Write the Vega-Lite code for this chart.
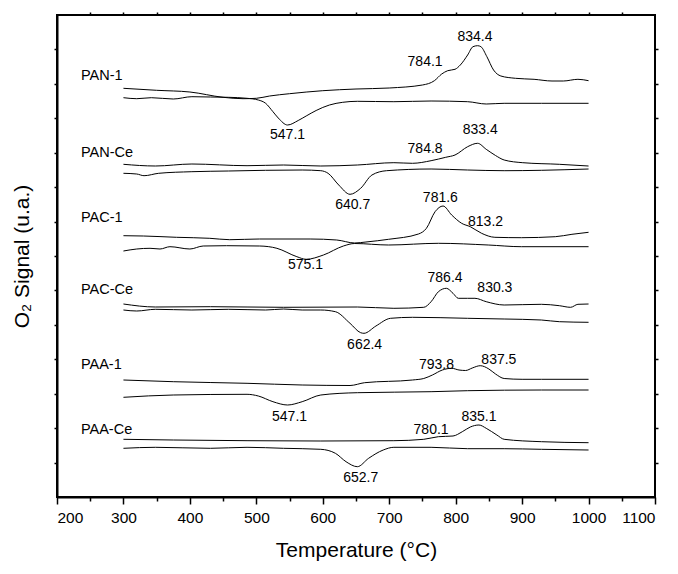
{
  "$schema": "https://vega.github.io/schema/vega-lite/v6.json",
  "width": 598,
  "height": 482,
  "autosize": {"type": "none"},
  "padding": {"left": 57, "top": 15, "right": 23, "bottom": 77},
  "config": {
    "font": "Liberation Sans",
    "view": {"stroke": "black", "strokeWidth": 2},
    "axis": {"grid": false, "domainColor": "black", "domainWidth": 2, "tickColor": "black", "tickWidth": 1.5, "labelColor": "black", "titleColor": "black", "labelFont": "Liberation Sans", "titleFont": "Liberation Sans", "titleFontWeight": "normal"}
  },
  "datasets": {
    "curves": [
      {"curve": "PAN-1 a", "t": 300, "s": 408.7}, {"curve": "PAN-1 a", "t": 350, "s": 406.7}, {"curve": "PAN-1 a", "t": 400, "s": 405}, {"curve": "PAN-1 a", "t": 450, "s": 399.7}, {"curve": "PAN-1 a", "t": 480, "s": 398.3}, {"curve": "PAN-1 a", "t": 500, "s": 398.7}, {"curve": "PAN-1 a", "t": 520, "s": 401}, {"curve": "PAN-1 a", "t": 550, "s": 403.3}, {"curve": "PAN-1 a", "t": 600, "s": 406.3}, {"curve": "PAN-1 a", "t": 650, "s": 408}, {"curve": "PAN-1 a", "t": 700, "s": 409}, {"curve": "PAN-1 a", "t": 750, "s": 412}, {"curve": "PAN-1 a", "t": 768, "s": 416.3}, {"curve": "PAN-1 a", "t": 779, "s": 423}, {"curve": "PAN-1 a", "t": 788, "s": 426.3}, {"curve": "PAN-1 a", "t": 799, "s": 427.7}, {"curve": "PAN-1 a", "t": 807, "s": 432}, {"curve": "PAN-1 a", "t": 818, "s": 442}, {"curve": "PAN-1 a", "t": 826, "s": 450.3}, {"curve": "PAN-1 a", "t": 833, "s": 451.3}, {"curve": "PAN-1 a", "t": 838, "s": 450.3}, {"curve": "PAN-1 a", "t": 847, "s": 440.3}, {"curve": "PAN-1 a", "t": 857, "s": 427}, {"curve": "PAN-1 a", "t": 868, "s": 421}, {"curve": "PAN-1 a", "t": 890, "s": 418.7}, {"curve": "PAN-1 a", "t": 918, "s": 417.7}, {"curve": "PAN-1 a", "t": 945, "s": 416}, {"curve": "PAN-1 a", "t": 962, "s": 416}, {"curve": "PAN-1 a", "t": 984, "s": 417.7}, {"curve": "PAN-1 a", "t": 1000, "s": 416.3},
      {"curve": "PAN-1 b", "t": 300, "s": 399.3}, {"curve": "PAN-1 b", "t": 320, "s": 398.3}, {"curve": "PAN-1 b", "t": 342, "s": 399.3}, {"curve": "PAN-1 b", "t": 375, "s": 398}, {"curve": "PAN-1 b", "t": 403, "s": 400.3}, {"curve": "PAN-1 b", "t": 431, "s": 400}, {"curve": "PAN-1 b", "t": 458, "s": 399.7}, {"curve": "PAN-1 b", "t": 486, "s": 398.7}, {"curve": "PAN-1 b", "t": 503, "s": 397}, {"curve": "PAN-1 b", "t": 514, "s": 393.7}, {"curve": "PAN-1 b", "t": 525, "s": 385.3}, {"curve": "PAN-1 b", "t": 533, "s": 379}, {"curve": "PAN-1 b", "t": 547, "s": 372}, {"curve": "PAN-1 b", "t": 563, "s": 376.5}, {"curve": "PAN-1 b", "t": 575, "s": 381}, {"curve": "PAN-1 b", "t": 590, "s": 386.5}, {"curve": "PAN-1 b", "t": 610, "s": 392}, {"curve": "PAN-1 b", "t": 630, "s": 394.7}, {"curve": "PAN-1 b", "t": 652, "s": 395.7}, {"curve": "PAN-1 b", "t": 707, "s": 395.3}, {"curve": "PAN-1 b", "t": 763, "s": 396}, {"curve": "PAN-1 b", "t": 818, "s": 395.3}, {"curve": "PAN-1 b", "t": 846, "s": 393}, {"curve": "PAN-1 b", "t": 873, "s": 393.7}, {"curve": "PAN-1 b", "t": 929, "s": 393.7}, {"curve": "PAN-1 b", "t": 1000, "s": 393.7},
      {"curve": "PAN-Ce a", "t": 300, "s": 332.7}, {"curve": "PAN-Ce a", "t": 348, "s": 331}, {"curve": "PAN-Ce a", "t": 403, "s": 333}, {"curve": "PAN-Ce a", "t": 486, "s": 331.3}, {"curve": "PAN-Ce a", "t": 541, "s": 332}, {"curve": "PAN-Ce a", "t": 597, "s": 331}, {"curve": "PAN-Ce a", "t": 652, "s": 332}, {"curve": "PAN-Ce a", "t": 707, "s": 334.3}, {"curve": "PAN-Ce a", "t": 735, "s": 333.7}, {"curve": "PAN-Ce a", "t": 763, "s": 336.3}, {"curve": "PAN-Ce a", "t": 785, "s": 339.7}, {"curve": "PAN-Ce a", "t": 799, "s": 342}, {"curve": "PAN-Ce a", "t": 818, "s": 350.3}, {"curve": "PAN-Ce a", "t": 833, "s": 353.7}, {"curve": "PAN-Ce a", "t": 846, "s": 347.7}, {"curve": "PAN-Ce a", "t": 860, "s": 341.5}, {"curve": "PAN-Ce a", "t": 873, "s": 337}, {"curve": "PAN-Ce a", "t": 901, "s": 334.3}, {"curve": "PAN-Ce a", "t": 956, "s": 332.7}, {"curve": "PAN-Ce a", "t": 1000, "s": 331},
      {"curve": "PAN-Ce b", "t": 300, "s": 323.7}, {"curve": "PAN-Ce b", "t": 320, "s": 323}, {"curve": "PAN-Ce b", "t": 331, "s": 321.3}, {"curve": "PAN-Ce b", "t": 353, "s": 323.7}, {"curve": "PAN-Ce b", "t": 403, "s": 325.3}, {"curve": "PAN-Ce b", "t": 458, "s": 326}, {"curve": "PAN-Ce b", "t": 514, "s": 326.7}, {"curve": "PAN-Ce b", "t": 569, "s": 327}, {"curve": "PAN-Ce b", "t": 597, "s": 326.3}, {"curve": "PAN-Ce b", "t": 608, "s": 323.7}, {"curve": "PAN-Ce b", "t": 624, "s": 312}, {"curve": "PAN-Ce b", "t": 641, "s": 302.7}, {"curve": "PAN-Ce b", "t": 657, "s": 308.7}, {"curve": "PAN-Ce b", "t": 674, "s": 322}, {"curve": "PAN-Ce b", "t": 696, "s": 326.3}, {"curve": "PAN-Ce b", "t": 763, "s": 328}, {"curve": "PAN-Ce b", "t": 818, "s": 327}, {"curve": "PAN-Ce b", "t": 873, "s": 326.3}, {"curve": "PAN-Ce b", "t": 929, "s": 326.7}, {"curve": "PAN-Ce b", "t": 1000, "s": 328},
      {"curve": "PAC-1 a", "t": 300, "s": 261.3}, {"curve": "PAC-1 a", "t": 330, "s": 261}, {"curve": "PAC-1 a", "t": 380, "s": 259.7}, {"curve": "PAC-1 a", "t": 430, "s": 258.7}, {"curve": "PAC-1 a", "t": 460, "s": 257.3}, {"curve": "PAC-1 a", "t": 505, "s": 258}, {"curve": "PAC-1 a", "t": 581, "s": 258}, {"curve": "PAC-1 a", "t": 621, "s": 257}, {"curve": "PAC-1 a", "t": 648, "s": 254}, {"curve": "PAC-1 a", "t": 665, "s": 255}, {"curve": "PAC-1 a", "t": 699, "s": 257.7}, {"curve": "PAC-1 a", "t": 744, "s": 263}, {"curve": "PAC-1 a", "t": 756, "s": 268.7}, {"curve": "PAC-1 a", "t": 769, "s": 285.3}, {"curve": "PAC-1 a", "t": 781, "s": 291}, {"curve": "PAC-1 a", "t": 794, "s": 282}, {"curve": "PAC-1 a", "t": 809, "s": 273.7}, {"curve": "PAC-1 a", "t": 822, "s": 270.3}, {"curve": "PAC-1 a", "t": 839, "s": 263.7}, {"curve": "PAC-1 a", "t": 859, "s": 259.7}, {"curve": "PAC-1 a", "t": 899, "s": 259.3}, {"curve": "PAC-1 a", "t": 950, "s": 260.3}, {"curve": "PAC-1 a", "t": 975, "s": 262.7}, {"curve": "PAC-1 a", "t": 1000, "s": 264.7},
      {"curve": "PAC-1 b", "t": 300, "s": 246}, {"curve": "PAC-1 b", "t": 320, "s": 248}, {"curve": "PAC-1 b", "t": 340, "s": 248.7}, {"curve": "PAC-1 b", "t": 355, "s": 248}, {"curve": "PAC-1 b", "t": 370, "s": 250.3}, {"curve": "PAC-1 b", "t": 400, "s": 248}, {"curve": "PAC-1 b", "t": 420, "s": 251}, {"curve": "PAC-1 b", "t": 455, "s": 251.3}, {"curve": "PAC-1 b", "t": 505, "s": 251}, {"curve": "PAC-1 b", "t": 531, "s": 248.7}, {"curve": "PAC-1 b", "t": 561, "s": 240.3}, {"curve": "PAC-1 b", "t": 575, "s": 237.7}, {"curve": "PAC-1 b", "t": 601, "s": 242}, {"curve": "PAC-1 b", "t": 631, "s": 251}, {"curve": "PAC-1 b", "t": 648, "s": 253.5}, {"curve": "PAC-1 b", "t": 699, "s": 252}, {"curve": "PAC-1 b", "t": 774, "s": 253.7}, {"curve": "PAC-1 b", "t": 849, "s": 252}, {"curve": "PAC-1 b", "t": 899, "s": 250.3}, {"curve": "PAC-1 b", "t": 1000, "s": 250.3},
      {"curve": "PAC-Ce a", "t": 300, "s": 193}, {"curve": "PAC-Ce a", "t": 348, "s": 190}, {"curve": "PAC-Ce a", "t": 431, "s": 190.3}, {"curve": "PAC-Ce a", "t": 541, "s": 189.7}, {"curve": "PAC-Ce a", "t": 652, "s": 190}, {"curve": "PAC-Ce a", "t": 707, "s": 188.7}, {"curve": "PAC-Ce a", "t": 752, "s": 189.7}, {"curve": "PAC-Ce a", "t": 763, "s": 195.3}, {"curve": "PAC-Ce a", "t": 774, "s": 205.3}, {"curve": "PAC-Ce a", "t": 786, "s": 208.7}, {"curve": "PAC-Ce a", "t": 796, "s": 203.7}, {"curve": "PAC-Ce a", "t": 804, "s": 198.7}, {"curve": "PAC-Ce a", "t": 818, "s": 198.7}, {"curve": "PAC-Ce a", "t": 829, "s": 198.7}, {"curve": "PAC-Ce a", "t": 846, "s": 195.3}, {"curve": "PAC-Ce a", "t": 873, "s": 192}, {"curve": "PAC-Ce a", "t": 929, "s": 192.7}, {"curve": "PAC-Ce a", "t": 956, "s": 191.3}, {"curve": "PAC-Ce a", "t": 973, "s": 189.7}, {"curve": "PAC-Ce a", "t": 984, "s": 192.7}, {"curve": "PAC-Ce a", "t": 1000, "s": 193},
      {"curve": "PAC-Ce b", "t": 300, "s": 187}, {"curve": "PAC-Ce b", "t": 320, "s": 186}, {"curve": "PAC-Ce b", "t": 348, "s": 187.7}, {"curve": "PAC-Ce b", "t": 403, "s": 187}, {"curve": "PAC-Ce b", "t": 458, "s": 187.7}, {"curve": "PAC-Ce b", "t": 514, "s": 187}, {"curve": "PAC-Ce b", "t": 541, "s": 188}, {"curve": "PAC-Ce b", "t": 569, "s": 187}, {"curve": "PAC-Ce b", "t": 597, "s": 187}, {"curve": "PAC-Ce b", "t": 619, "s": 185.3}, {"curve": "PAC-Ce b", "t": 641, "s": 173.7}, {"curve": "PAC-Ce b", "t": 657, "s": 164.3}, {"curve": "PAC-Ce b", "t": 662, "s": 163.7}, {"curve": "PAC-Ce b", "t": 680, "s": 171}, {"curve": "PAC-Ce b", "t": 702, "s": 178.7}, {"curve": "PAC-Ce b", "t": 735, "s": 179.7}, {"curve": "PAC-Ce b", "t": 818, "s": 178.7}, {"curve": "PAC-Ce b", "t": 873, "s": 178}, {"curve": "PAC-Ce b", "t": 929, "s": 177}, {"curve": "PAC-Ce b", "t": 956, "s": 175.3}, {"curve": "PAC-Ce b", "t": 1000, "s": 174.7},
      {"curve": "PAA-1 a", "t": 300, "s": 117}, {"curve": "PAA-1 a", "t": 375, "s": 115.3}, {"curve": "PAA-1 a", "t": 486, "s": 113.7}, {"curve": "PAA-1 a", "t": 569, "s": 112}, {"curve": "PAA-1 a", "t": 641, "s": 111.5}, {"curve": "PAA-1 a", "t": 663, "s": 114.3}, {"curve": "PAA-1 a", "t": 735, "s": 117}, {"curve": "PAA-1 a", "t": 752, "s": 118.5}, {"curve": "PAA-1 a", "t": 765, "s": 122}, {"curve": "PAA-1 a", "t": 780, "s": 127}, {"curve": "PAA-1 a", "t": 794, "s": 128.7}, {"curve": "PAA-1 a", "t": 805, "s": 127}, {"curve": "PAA-1 a", "t": 815, "s": 126.5}, {"curve": "PAA-1 a", "t": 825, "s": 129}, {"curve": "PAA-1 a", "t": 837, "s": 131.3}, {"curve": "PAA-1 a", "t": 850, "s": 128}, {"curve": "PAA-1 a", "t": 860, "s": 123}, {"curve": "PAA-1 a", "t": 873, "s": 118.5}, {"curve": "PAA-1 a", "t": 900, "s": 117.7}, {"curve": "PAA-1 a", "t": 929, "s": 117.7}, {"curve": "PAA-1 a", "t": 1000, "s": 117.7},
      {"curve": "PAA-1 b", "t": 300, "s": 99.7}, {"curve": "PAA-1 b", "t": 375, "s": 102}, {"curve": "PAA-1 b", "t": 486, "s": 102.7}, {"curve": "PAA-1 b", "t": 503, "s": 101}, {"curve": "PAA-1 b", "t": 525, "s": 95.3}, {"curve": "PAA-1 b", "t": 547, "s": 92}, {"curve": "PAA-1 b", "t": 569, "s": 95.3}, {"curve": "PAA-1 b", "t": 597, "s": 102}, {"curve": "PAA-1 b", "t": 652, "s": 104.3}, {"curve": "PAA-1 b", "t": 763, "s": 105.3}, {"curve": "PAA-1 b", "t": 818, "s": 106.3}, {"curve": "PAA-1 b", "t": 929, "s": 107}, {"curve": "PAA-1 b", "t": 1000, "s": 107},
      {"curve": "PAA-Ce a", "t": 300, "s": 57.7}, {"curve": "PAA-Ce a", "t": 375, "s": 57}, {"curve": "PAA-Ce a", "t": 486, "s": 56.3}, {"curve": "PAA-Ce a", "t": 597, "s": 56}, {"curve": "PAA-Ce a", "t": 707, "s": 56.3}, {"curve": "PAA-Ce a", "t": 752, "s": 57.7}, {"curve": "PAA-Ce a", "t": 774, "s": 60.3}, {"curve": "PAA-Ce a", "t": 796, "s": 61}, {"curve": "PAA-Ce a", "t": 810, "s": 65.3}, {"curve": "PAA-Ce a", "t": 822, "s": 70}, {"curve": "PAA-Ce a", "t": 835, "s": 72}, {"curve": "PAA-Ce a", "t": 846, "s": 68.7}, {"curve": "PAA-Ce a", "t": 862, "s": 62}, {"curve": "PAA-Ce a", "t": 873, "s": 57.7}, {"curve": "PAA-Ce a", "t": 929, "s": 55.3}, {"curve": "PAA-Ce a", "t": 1000, "s": 54.3},
      {"curve": "PAA-Ce b", "t": 300, "s": 48.7}, {"curve": "PAA-Ce b", "t": 348, "s": 49.7}, {"curve": "PAA-Ce b", "t": 431, "s": 48.7}, {"curve": "PAA-Ce b", "t": 486, "s": 49.7}, {"curve": "PAA-Ce b", "t": 541, "s": 48.7}, {"curve": "PAA-Ce b", "t": 597, "s": 47.7}, {"curve": "PAA-Ce b", "t": 619, "s": 43.7}, {"curve": "PAA-Ce b", "t": 635, "s": 35.3}, {"curve": "PAA-Ce b", "t": 652, "s": 30.3}, {"curve": "PAA-Ce b", "t": 669, "s": 38.7}, {"curve": "PAA-Ce b", "t": 691, "s": 47}, {"curve": "PAA-Ce b", "t": 707, "s": 49.7}, {"curve": "PAA-Ce b", "t": 763, "s": 49.7}, {"curve": "PAA-Ce b", "t": 818, "s": 48.3}, {"curve": "PAA-Ce b", "t": 873, "s": 48.3}, {"curve": "PAA-Ce b", "t": 929, "s": 47.7}, {"curve": "PAA-Ce b", "t": 1000, "s": 47}
    ],
    "peaks": [
      {"label": "834.4", "t": 829, "s": 460.3}, {"label": "784.1", "t": 754, "s": 435.3}, {"label": "547.1", "t": 547, "s": 362},
      {"label": "833.4", "t": 837, "s": 367}, {"label": "784.8", "t": 754, "s": 347.7}, {"label": "640.7", "t": 645, "s": 292},
      {"label": "781.6", "t": 777, "s": 299}, {"label": "813.2", "t": 845, "s": 275.3}, {"label": "575.1", "t": 574, "s": 232},
      {"label": "786.4", "t": 784, "s": 218.7}, {"label": "830.3", "t": 859, "s": 208.7}, {"label": "662.4", "t": 663, "s": 152},
      {"label": "793.8", "t": 771, "s": 132}, {"label": "837.5", "t": 865, "s": 137}, {"label": "547.1", "t": 550, "s": 80.3},
      {"label": "835.1", "t": 835, "s": 80.3}, {"label": "780.1", "t": 763, "s": 67}, {"label": "652.7", "t": 657, "s": 18.7}
    ],
    "samples": [
      {"label": "PAN-1", "t": 236, "s": 421}, {"label": "PAN-Ce", "t": 236, "s": 343.7}, {"label": "PAC-1", "t": 236, "s": 278.7},
      {"label": "PAC-Ce", "t": 236, "s": 207}, {"label": "PAA-1", "t": 236, "s": 132}, {"label": "PAA-Ce", "t": 236, "s": 67}
    ]
  },
  "layer": [
    {
      "data": {"name": "curves"},
      "mark": {"type": "line", "stroke": "black", "strokeWidth": 1, "interpolate": "monotone"},
      "encoding": {
        "x": {"field": "t", "type": "quantitative", "scale": {"domain": [200, 1100]},
          "axis": {"orient": "bottom", "values": [200, 300, 400, 500, 600, 700, 800, 900, 1000, 1100], "format": "d", "tickSize": 7, "labelFontSize": 15.5, "labelPadding": 6, "title": "Temperature (°C)", "titleFontSize": 21, "titlePadding": 14}},
        "y": {"field": "s", "type": "quantitative", "scale": {"domain": [0, 482]},
          "axis": {"orient": "left", "values": [34.43, 68.86, 103.29, 137.71, 172.14, 206.57, 241, 275.43, 309.86, 344.29, 378.71, 413.14, 447.57], "tickSize": 3, "labels": false, "title": "O₂ Signal (u.a.)", "titleFontSize": 21, "titlePadding": 21}},
        "detail": {"field": "curve"}
      }
    },
    {
      "data": {"name": "peaks"},
      "mark": {"type": "text", "fontSize": 14, "font": "Liberation Sans", "color": "black", "align": "center", "baseline": "middle"},
      "encoding": {
        "x": {"field": "t", "type": "quantitative", "scale": {"domain": [200, 1100]},
          "axis": {"orient": "bottom", "values": [250, 350, 450, 550, 650, 750, 850, 950, 1050], "tickSize": 4, "labels": false, "domain": false, "title": null}},
        "y": {"field": "s", "type": "quantitative", "scale": {"domain": [0, 482]},
          "axis": {"orient": "right", "values": [34.43, 68.86, 103.29, 137.71, 172.14, 206.57, 241, 275.43, 309.86, 344.29, 378.71, 413.14, 447.57], "tickSize": 3, "labels": false, "domain": false, "title": null}},
        "text": {"field": "label"}
      }
    },
    {
      "data": {"name": "samples"},
      "mark": {"type": "text", "fontSize": 14.5, "font": "Liberation Sans", "color": "black", "align": "left", "baseline": "middle"},
      "encoding": {
        "x": {"field": "t", "type": "quantitative", "scale": {"domain": [200, 1100]},
          "axis": {"orient": "top", "values": [250, 300, 350, 400, 450, 500, 550, 600, 650, 700, 750, 800, 850, 900, 950, 1000, 1050], "tickSize": 3, "labels": false, "domain": false, "title": null}},
        "y": {"field": "s", "type": "quantitative", "scale": {"domain": [0, 482]}, "axis": null},
        "text": {"field": "label"}
      }
    }
  ],
  "resolve": {"axis": {"x": "independent", "y": "independent"}}
}
